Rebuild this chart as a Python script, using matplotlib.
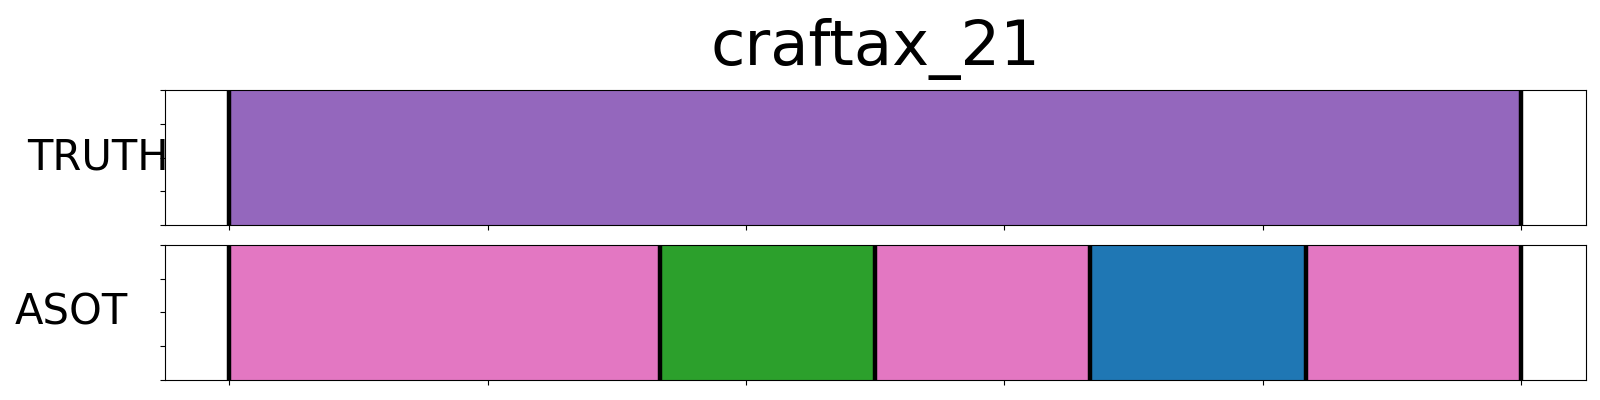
import matplotlib
matplotlib.use("Agg")
import matplotlib.pyplot as plt

title = "craftax_21"
row_names = ["TRUTH", "ASOT"]

# segment boundaries (normalised time) and segment colours per row
truth_bounds = [0.0, 1.0]
truth_colors = ["tab:purple"]
asot_bounds = [0.0, 1/3, 1/2, 2/3, 5/6, 1.0]
asot_colors = ["tab:pink", "tab:green", "tab:pink", "tab:blue", "tab:pink"]

rows = [(truth_bounds, truth_colors), (asot_bounds, asot_colors)]
label_x = [-0.047, -0.066]

fig, axes = plt.subplots(2, 1, figsize=(16, 4), dpi=100)
fig.subplots_adjust(left=0.103, right=0.991, top=0.775, bottom=0.05, hspace=0.148)

for i, ax in enumerate(axes):
    bounds, colors = rows[i]
    for s in range(len(colors)):
        ax.axvspan(bounds[s], bounds[s+1], color=colors[s], lw=0)
    for b in bounds:
        ax.axvline(b, color="black", lw=3.2, zorder=3)
    ax.set_xlim(-0.05, 1.05)
    ax.set_ylim(0, 1)
    ax.set_xticks([0, 0.2, 0.4, 0.6, 0.8, 1.0])
    ax.set_xticklabels([])
    ax.set_yticks([0, 0.25, 0.5, 0.75, 1.0])
    ax.set_yticklabels([])
    ax.set_ylabel(row_names[i], rotation=0, fontsize=30, ha="center", va="center")
    ax.yaxis.set_label_coords(label_x[i], 0.5)

axes[0].set_title(title, fontsize=45, pad=18)

plt.savefig("out.png")
